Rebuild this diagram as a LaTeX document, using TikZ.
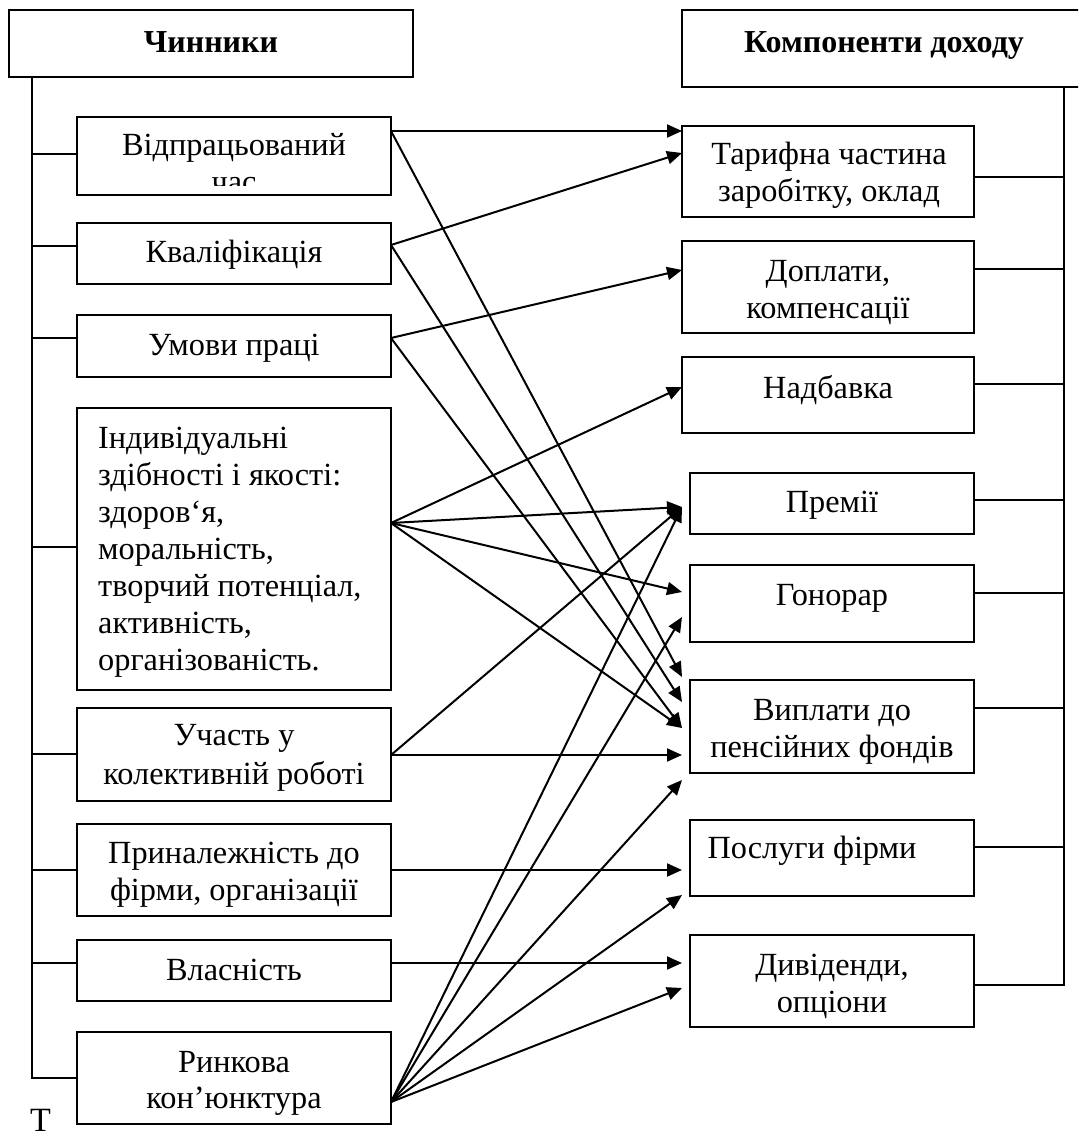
\documentclass[tikz,border=0pt]{standalone}
\usepackage{fontspec}
\setmainfont{Liberation Serif}
\usetikzlibrary{arrows.meta,calc}
\begin{document}
\begin{tikzpicture}[x=1pt,y=-1pt,
  box/.style={draw, line width=1.9pt, inner sep=0pt, outer sep=0pt, anchor=north west},
  txt/.style={font=\fontsize{32.3}{37}\selectfont, inner sep=0pt, anchor=base},
  hdr/.style={font=\fontsize{32}{37}\selectfont\bfseries, inner sep=0pt, anchor=base},
  tree/.style={line width=1.8pt},
  arr/.style={line width=2pt, -{Triangle[length=15pt,width=13pt]}},
]
\useasboundingbox (0,0) rectangle (1078,1139);
\clip (0,0) rectangle (1078,1139);

% headers
\node[box, minimum width=404pt, minimum height=67pt] (HL) at (9,10) {};
\node[box, minimum width=420pt, minimum height=77pt] (HR) at (682,10) {};
\node[hdr] (hlt) at (211,53) {Чинники};
\node[hdr] (hrt) at (884,53) {Компоненти доходу};

% left boxes
\node[box, minimum width=314pt, minimum height=78pt] (L1) at (77,117) {};
\node[box, minimum width=314pt, minimum height=61pt] (L2) at (77,223) {};
\node[box, minimum width=314pt, minimum height=62pt] (L3) at (77,315) {};
\node[box, minimum width=314pt, minimum height=282pt] (L4) at (77,408) {};
\node[box, minimum width=314pt, minimum height=93pt] (L5) at (77,708) {};
\node[box, minimum width=314pt, minimum height=92pt] (L6) at (77,824) {};
\node[box, minimum width=314pt, minimum height=61pt] (L7) at (77,940) {};
\node[box, minimum width=314pt, minimum height=92pt] (L8) at (77,1032) {};

% right boxes
\node[box, minimum width=292pt, minimum height=91pt] (R1) at (682,126) {};
\node[box, minimum width=292pt, minimum height=92pt] (R2) at (682,241) {};
\node[box, minimum width=292pt, minimum height=76pt] (R3) at (682,357) {};
\node[box, minimum width=284pt, minimum height=61pt] (R4) at (690,473) {};
\node[box, minimum width=284pt, minimum height=77pt] (R5) at (690,565) {};
\node[box, minimum width=284pt, minimum height=93pt] (R6) at (690,680) {};
\node[box, minimum width=284pt, minimum height=76pt] (R7) at (690,820) {};
\node[box, minimum width=284pt, minimum height=92pt] (R8) at (690,935) {};

% left texts
\begin{scope}
\clip (77,117) rectangle (391,186);
\node[txt] (l1t) at (234,156) {\begin{tabular}[t]{@{}c@{}}Відпрацьований\\час\end{tabular}};
\end{scope}
\node[txt] (l2t) at (234,263) {Кваліфікація};
\node[txt] (l3t) at (234,355) {Умови праці};
\node[txt, anchor=base west] (l4t) at (98,448) {\begin{tabular}[t]{@{}l@{}}Індивідуальні\\здібності і якості:\\здоров‘я,\\моральність,\\творчий потенціал,\\активність,\\організованість.\end{tabular}};
\node[txt, font=\fontsize{32.3}{39}\selectfont] (l5t) at (234,745) {\begin{tabular}[t]{@{}c@{}}Участь у\\колективній роботі\end{tabular}};
\node[txt] (l6t) at (234,863) {\begin{tabular}[t]{@{}c@{}}Приналежність до\\фірми, організації\end{tabular}};
\node[txt] (l7t) at (234,980) {Власність};
\node[txt, font=\fontsize{32.3}{36}\selectfont] (l8t) at (234,1072) {\begin{tabular}[t]{@{}c@{}}Ринкова\\кон’юнктура\end{tabular}};
\node[txt, anchor=base west, text depth=0pt, font=\fontsize{34}{38}\selectfont] (tt) at (30,1131) {Т};

% right texts
\node[txt] (r1t) at (829,165) {\begin{tabular}[t]{@{}c@{}}Тарифна частина\\заробітку, оклад\end{tabular}};
\node[txt, font=\fontsize{32.3}{36}\selectfont] (r2t) at (828,282) {\begin{tabular}[t]{@{}c@{}}Доплати,\\компенсації\end{tabular}};
\node[txt] (r3t) at (828,398) {Надбавка};
\node[txt] (r4t) at (832,512) {Премії};
\node[txt] (r5t) at (832,605) {Гонорар};
\node[txt] (r6t) at (832,720) {\begin{tabular}[t]{@{}c@{}}Виплати до\\пенсійних фондів\end{tabular}};
\node[txt] (r7t) at (812,858) {Послуги фірми};
\node[txt] (r8t) at (832,975) {\begin{tabular}[t]{@{}c@{}}Дивіденди,\\опціони\end{tabular}};

% left tree
\coordinate (ltop) at (HL.south -| 32,0);
\draw[tree] (ltop) |- (L1.west |- 0,154);
\draw[tree] (ltop) |- (L2.west |- 0,246);
\draw[tree] (ltop) |- (L3.west |- 0,338);
\draw[tree] (ltop) |- (L4.west |- 0,547);
\draw[tree] (ltop) |- (L5.west |- 0,754);
\draw[tree] (ltop) |- (L6.west |- 0,870);
\draw[tree] (ltop) |- (L7.west |- 0,963);
\draw[tree] (ltop) |- (L8.west |- 0,1078);

% right tree
\coordinate (rtop) at (HR.south -| 1064,0);
\draw[tree] (R1.east |- 0,177) -| (rtop);
\draw[tree] (R2.east |- 0,269) -| (rtop);
\draw[tree] (R3.east |- 0,384) -| (rtop);
\draw[tree] (R4.east |- 0,500) -| (rtop);
\draw[tree] (R5.east |- 0,593) -| (rtop);
\draw[tree] (R6.east |- 0,708) -| (rtop);
\draw[tree] (R7.east |- 0,847) -| (rtop);
\draw[tree] (R8.east |- 0,985) -| (rtop);

% arrows
\draw[arr] (L1.east |- 0,131) -- (R1.west |- 0,131);
\draw[arr] (L1.east |- 0,131) -- ($(R6.west |- 0,677)+(-8,0)$);
\draw[arr] (L2.east |- 0,245) -- (R1.west |- 0,153);
\draw[arr] (L2.east |- 0,245) -- ($(R6.west |- 0,702)+(-8,0)$);
\draw[arr] (L3.east |- 0,338) -- (R2.west |- 0,270);
\draw[arr] (L3.east |- 0,338) -- ($(R6.west |- 0,728)+(-8,0)$);
\draw[arr] (L4.east |- 0,523) -- (R3.west |- 0,387);
\draw[arr] (L4.east |- 0,523) -- ($(R4.west |- 0,507)+(-8,0)$);
\draw[arr] (L4.east |- 0,523) -- ($(R5.west |- 0,592)+(-8,0)$);
\draw[arr] (L4.east |- 0,523) -- ($(R6.west |- 0,728)+(-8,0)$);
\draw[arr] (L5.east |- 0,755) -- ($(R4.west |- 0,507)+(-8,0)$);
\draw[arr] (L5.east |- 0,755) -- ($(R6.west |- 0,755)+(-8,0)$);
\draw[arr] (L6.east |- 0,870) -- ($(R7.west |- 0,870)+(-8,0)$);
\draw[arr] (L7.east |- 0,963) -- ($(R8.west |- 0,963)+(-8,0)$);
\draw[arr] (L8.east |- 0,1102) -- ($(R4.west |- 0,507)+(-8,0)$);
\draw[arr] (L8.east |- 0,1102) -- ($(R5.west |- 0,617)+(-8,0)$);
\draw[arr] (L8.east |- 0,1102) -- ($(R6.west |- 0,780)+(-8,0)$);
\draw[arr] (L8.east |- 0,1102) -- ($(R7.west |- 0,895)+(-8,0)$);
\draw[arr] (L8.east |- 0,1102) -- ($(R8.west |- 0,988)+(-8,0)$);
\end{tikzpicture}
\end{document}
